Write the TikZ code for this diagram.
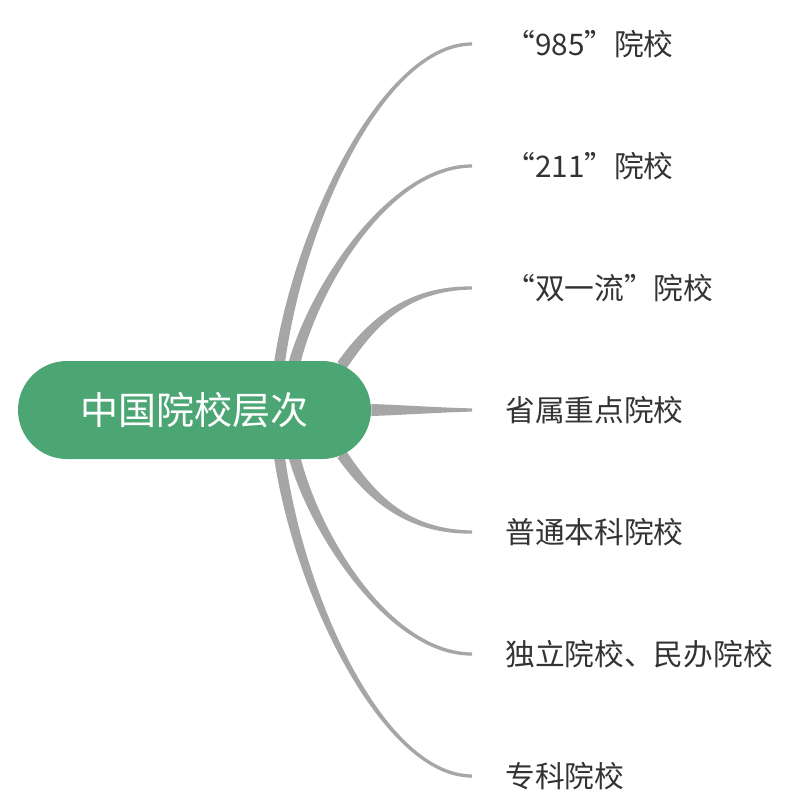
\documentclass[tikz,border=0pt]{standalone}
\usepackage{fontspec}
\setmainfont{Noto Sans CJK SC}
\usetikzlibrary{calc,backgrounds}
\definecolor{rootgreen}{RGB}{75,166,116}
\definecolor{twiggray}{RGB}{166,166,166}
\definecolor{leaftext}{RGB}{51,51,51}

\tikzset{
  root/.style={fill=rootgreen, text=white, rounded corners=36.75pt,
    minimum width=264.75pt, minimum height=73.5pt, inner sep=0pt,
    font=\fontsize{28.5}{32}\selectfont},
  leaf/.style={anchor=west, inner sep=0pt, text=leaftext,
    font=\fontsize{22.3}{26}\selectfont},
}

% tapered branch: #1 start, #2 half width at start, #3 first control,
% #4 distance of second control before the leaf, #5 leaf node
\newcommand\twig[5]{%
  \fill[twiggray] ($(#1)-(#2)$) .. controls ($(#3)-0.85*(#2)$) and ($(#5.west)+(-#4,-2.4)$)
    .. ($(#5.west)+(-33,-1.6)$) -- ($(#5.west)+(-33,1.6)$)
    .. controls ($(#5.west)+(-#4,2.4)$) and ($(#3)+0.85*(#2)$) .. ($(#1)+(#2)$) -- cycle;}

\begin{document}
\begin{tikzpicture}[x=0.75pt, y=-0.75pt]
    \useasboundingbox (0,0) rectangle (791,808);

    % Central topic
    \node[root] (root) at (194.5,410) {中国院校层次};

    % Leaves
    \foreach \nm/\yy/\txt in {l985/44/{“985”院校}, l211/166/{“211”院校},
        lsyl/288/{“双一流”院校}, lsheng/410/{省属重点院校},
        lputong/532/{普通本科院校}, lduli/654/{独立院校、民办院校},
        lzhuanke/776/{专科院校}} {
        \node[leaf] (\nm) at (505,\yy) {\txt};
    }

    % Branch start points on the central topic
    \coordinate (s985) at ($(root.north)+(85,2)$);
    \coordinate (s211) at ($(root.north)+(100,2)$);
    \coordinate (ssyl) at ($(root.center)+(147,-44)$);
    \coordinate (sputong) at ($(root.center)+(147,44)$);
    \coordinate (sduli) at ($(root.south)+(100,-2)$);
    \coordinate (szhuanke) at ($(root.south)+(85,-2)$);

    % Branches
    \begin{scope}[on background layer]
        \twig{s985}{5.5,0}{300,220}{120}{l985}
        \twig{s211}{6,0}{315,285}{115}{l211}
        \twig{ssyl}{4,4}{370,325}{100}{lsyl}
        \twig{root.east}{0,6}{400,410}{65}{lsheng}
        \twig{sputong}{-4,4}{370,495}{100}{lputong}
        \twig{sduli}{-6,0}{315,535}{115}{lduli}
        \twig{szhuanke}{-5.5,0}{300,600}{120}{lzhuanke}
    \end{scope}

\end{tikzpicture}
\end{document}
